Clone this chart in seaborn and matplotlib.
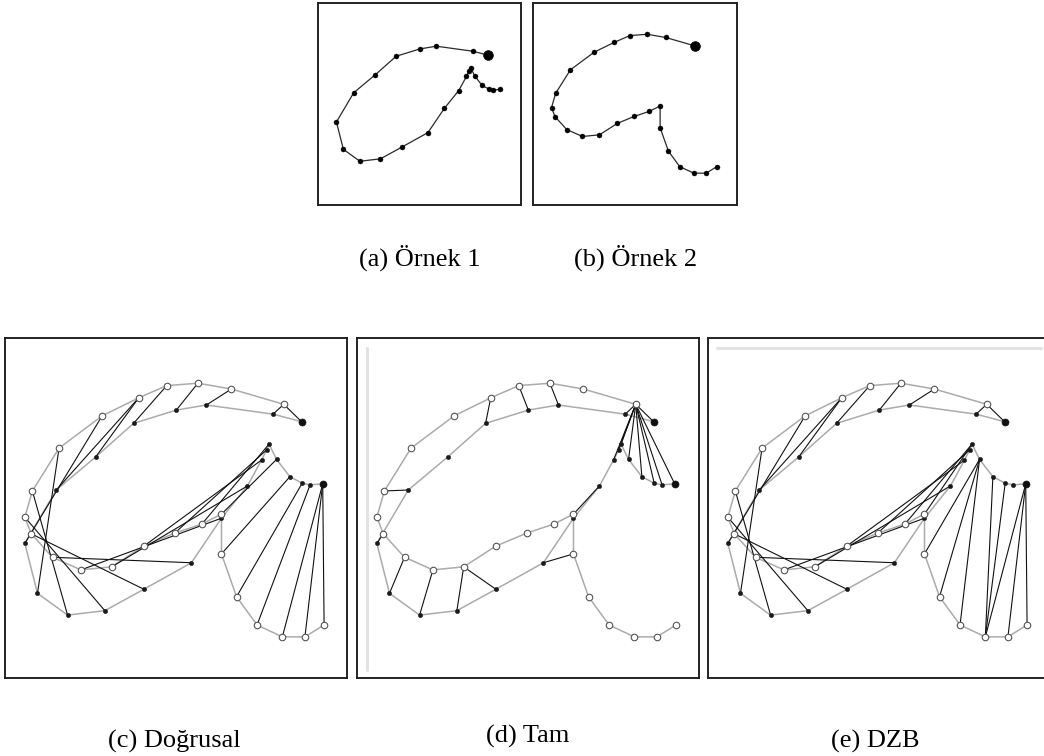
import numpy as np
import pandas as pd
import matplotlib
matplotlib.use("Agg")
import matplotlib.pyplot as plt
import seaborn as sns

# ---------------- data (normalised panel coordinates, y grows downward) -------------
# Örnek 1 : black-dot trajectory
ornek1_x = [0.867, 0.784, 0.589, 0.501, 0.376, 0.265, 0.150, 0.058, 0.095, 0.183, 0.292, 0.406,
            0.545, 0.633, 0.709, 0.750, 0.765, 0.772, 0.794, 0.833, 0.869, 0.892, 0.929]
ornek1_y = [0.246, 0.224, 0.197, 0.212, 0.251, 0.350, 0.447, 0.604, 0.751, 0.815, 0.802, 0.739,
            0.661, 0.530, 0.435, 0.359, 0.329, 0.312, 0.357, 0.408, 0.427, 0.432, 0.429]
# Örnek 2 : open-circle trajectory
ornek2_x = [0.815, 0.662, 0.564, 0.473, 0.391, 0.284, 0.158, 0.080, 0.058, 0.077, 0.139, 0.222,
            0.312, 0.406, 0.496, 0.576, 0.633, 0.633, 0.677, 0.737, 0.811, 0.877, 0.933]
ornek2_y = [0.195, 0.150, 0.133, 0.140, 0.176, 0.229, 0.324, 0.450, 0.527, 0.576, 0.645, 0.682,
            0.673, 0.612, 0.574, 0.547, 0.518, 0.635, 0.761, 0.844, 0.879, 0.879, 0.844]

# alignments: (index in Örnek 2, index in Örnek 1)
align_dogrusal = [(0, 0), (0, 1), (1, 2), (2, 3), (3, 4), (4, 5), (4, 6), (5, 7), (6, 8), (7, 9),
                  (8, 10), (9, 11), (10, 12), (11, 13), (12, 14), (13, 15), (14, 16), (15, 17),
                  (16, 18), (17, 19), (18, 20), (19, 21), (20, 22), (21, 22), (22, 22)]
align_tam = [(0, 0), (0, 1), (2, 2), (3, 3), (4, 4), (7, 6), (9, 7), (10, 8), (11, 9), (12, 10),
             (12, 11), (17, 12), (16, 13), (16, 14), (0, 15), (0, 16), (0, 17), (0, 18), (0, 19),
             (0, 20), (0, 21), (0, 22)]
align_dzb = [(0, 0), (0, 1), (1, 2), (2, 3), (3, 4), (4, 5), (4, 6), (5, 7), (6, 8), (7, 9),
             (8, 10), (9, 11), (10, 12), (11, 13), (12, 14), (13, 15), (14, 16), (15, 17),
             (16, 17), (17, 18), (18, 18), (19, 18), (20, 19), (20, 20), (20, 22), (21, 22),
             (22, 22)]

captions = ["(a) Örnek 1", "(b) Örnek 2", "(c) Doğrusal", "(d) Tam", "(e) DZB"]

# ---------------- figure ----------------
sns.set_style("white")
W, H = 1044, 756
fig = plt.figure(figsize=(W / 100, H / 100), dpi=100)
fig.patch.set_facecolor("white")


def px_axes(x0, y0, x1, y1):
    return fig.add_axes([x0 / W, 1 - y1 / H, (x1 - x0) / W, (y1 - y0) / H])


def frame(ax):
    ax.set_xticks([])
    ax.set_yticks([])
    ax.set_xlabel("")
    ax.set_ylabel("")
    for s in ax.spines.values():
        s.set_visible(True)
        s.set_color("#222222")
        s.set_linewidth(1.4)


def caption(xy, text):
    fig.text(xy[0] / W, 1 - xy[1] / H, text, ha="center", va="center",
             fontsize=19, family="Liberation Serif", color="black")


df1 = pd.DataFrame({"x": ornek1_x, "y": ornek1_y})
df2 = pd.DataFrame({"x": ornek2_x, "y": ornek2_y})

# ---- panels a and b : single trajectories
for ax_box, df, cap_xy, cap in [((318, 3, 521, 205), df1, (420, 258), captions[0]),
                                ((533, 3, 737, 205), df2, (636, 258), captions[1])]:
    ax = px_axes(*ax_box)
    sns.lineplot(data=df, x="x", y="y", sort=False, estimator=None, color="#2a2a2a",
                 lw=0.9, ax=ax)
    sns.scatterplot(data=df.iloc[1:], x="x", y="y", color="black", s=13, edgecolor="black",
                    linewidth=0.3, ax=ax, zorder=3)
    sns.scatterplot(data=df.iloc[:1], x="x", y="y", color="black", s=48, edgecolor="black",
                    ax=ax, zorder=4)
    ax.set_xlim(-0.04, 1.04)
    ax.set_ylim(1.05, -0.035)
    frame(ax)
    caption(cap_xy, cap)


# ---- panels c, d, e : alignments
def align_panel(box, pairs, cap_xy, cap):
    ax = px_axes(*box)
    # trajectories (gray)
    sns.lineplot(data=df2, x="x", y="y", sort=False, estimator=None, color="#ababab", lw=1.1,
                 ax=ax, zorder=1)
    sns.lineplot(data=df1, x="x", y="y", sort=False, estimator=None, color="#ababab", lw=1.1,
                 ax=ax, zorder=1)
    # matching lines
    rows = []
    for k, (j, i) in enumerate(pairs):
        rows.append({"seg": k, "x": ornek2_x[j], "y": ornek2_y[j]})
        rows.append({"seg": k, "x": ornek1_x[i], "y": ornek1_y[i]})
    seg = pd.DataFrame(rows)
    sns.lineplot(data=seg, x="x", y="y", units="seg", estimator=None, sort=False,
                 color="#111111", lw=0.8, ax=ax, zorder=2)
    # markers
    sns.scatterplot(data=df1, x="x", y="y", color="#1a1a1a", s=10, edgecolor="#1a1a1a",
                    linewidth=0.3, ax=ax, zorder=3)
    sns.scatterplot(data=df1.iloc[[0, len(df1) - 1]], x="x", y="y", color="#111111", s=26,
                    edgecolor="#111111", ax=ax, zorder=4)
    sns.scatterplot(data=df2, x="x", y="y", color="white", s=22, edgecolor="#555555",
                    linewidth=0.8, ax=ax, zorder=5)
    ax.set_xlim(0, 1)
    ax.set_ylim(1, 0)
    frame(ax)
    caption(cap_xy, cap)
    return ax


ax_c = align_panel((5, 338, 347, 678), align_dogrusal, (174, 741), captions[2])
ax_d = align_panel((357, 338, 699, 678), align_tam, (528, 736), captions[3])
ax_e = align_panel((708, 338, 1050, 678), align_dzb, (875, 741), captions[4])

# faint scanning lines visible in the source panels
ax_d.axvline(0.028, ymin=0.025, ymax=0.97, color="#e3e3e3", lw=2.2, zorder=0)
ax_e.axhline(0.03, xmin=0.027, xmax=0.975, color="#e3e3e3", lw=2.2, zorder=0)

fig.savefig("out.png", dpi=100, facecolor="white")
